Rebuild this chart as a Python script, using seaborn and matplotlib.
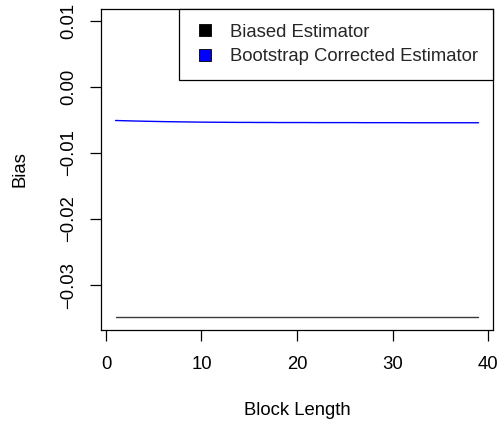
import numpy as np
import pandas as pd
import seaborn as sns
import matplotlib
matplotlib.use("Agg")
import matplotlib.pyplot as plt
from matplotlib.lines import Line2D

block_length = list(range(1, 40))

biased_bias = [-0.0348] * 39

corrected_bias = [
    -0.00508, -0.00512, -0.00516, -0.00519, -0.00522, -0.00525, -0.00527, -0.00529,
    -0.00531, -0.00533, -0.00534, -0.00535, -0.00536, -0.00537, -0.00537, -0.00538,
    -0.00538, -0.00539, -0.00539, -0.00539, -0.00539, -0.00540, -0.00540, -0.00540,
    -0.00540, -0.00540, -0.00541, -0.00541, -0.00541, -0.00541, -0.00541, -0.00542,
    -0.00542, -0.00542, -0.00542, -0.00542, -0.00542, -0.00542, -0.00542,
]

series_names = ["Biased Estimator", "Bootstrap Corrected Estimator"]
series_colors = ["#000000", "#0000FF"]

df = pd.DataFrame({
    "Block Length": block_length * 2,
    "Bias": biased_bias + corrected_bias,
    "Estimator": [series_names[0]] * 39 + [series_names[1]] * 39,
})

sns.set_theme(style="ticks")
plt.rcParams["font.family"] = ["Liberation Sans", "DejaVu Sans"]

FS = 13.3

fig = plt.figure(figsize=(4.97, 4.23), dpi=100)
W, H = 497, 423
ax = fig.add_axes([101 / W, 1 - 330 / H, (493 - 101) / W, (330 - 9) / H])

sns.lineplot(data=df, x="Block Length", y="Bias", hue="Estimator",
             palette={series_names[0]: "#3a3a3a", series_names[1]: "#0000FF"},
             linewidth=1.0, legend=False, ax=ax)

ax.set_xlim(-0.52, 40.52)
ax.set_ylim(-0.0368, 0.0118)
ax.set_xticks([0, 10, 20, 30, 40])
ax.set_yticks([-0.03, -0.02, -0.01, 0.00, 0.01])
ax.set_xticklabels(["0", "10", "20", "30", "40"])
ax.set_yticklabels(["\u22120.03", "\u22120.02", "\u22120.01", "0.00", "0.01"],
                   rotation=90, va="center")

for s in ax.spines.values():
    s.set_visible(True)
    s.set_color("black")
    s.set_linewidth(0.9)

ax.tick_params(axis="both", direction="out", length=8, width=0.9,
               color="black", labelsize=FS, labelcolor="black")
ax.tick_params(axis="x", pad=11)
ax.tick_params(axis="y", pad=9)

ax.set_xlabel("Block Length", fontsize=FS, color="black", va="center")
ax.set_ylabel("Bias", fontsize=FS, color="black", va="center")
ax.xaxis.set_label_coords(0.5, -(410 - 330) / (330 - 9))
ax.yaxis.set_label_coords(-(101 - 20) / (493 - 101), 0.5)

handles = [Line2D([0], [0], marker="s", linestyle="none", markersize=9,
                  markerfacecolor=c, markeredgecolor="black", markeredgewidth=0.6)
           for c in series_colors]
leg = ax.legend(handles, series_names, loc="upper right", bbox_to_anchor=(1, 1),
                borderaxespad=0, frameon=True, fancybox=False, fontsize=FS,
                handletextpad=0.75, borderpad=0.8, labelspacing=0.4,
                handlelength=1.2, edgecolor="black")
leg.get_frame().set_linewidth(0.9)
leg.get_frame().set_facecolor("white")
leg.get_frame().set_alpha(1)

fig.savefig("out.png", dpi=100)
